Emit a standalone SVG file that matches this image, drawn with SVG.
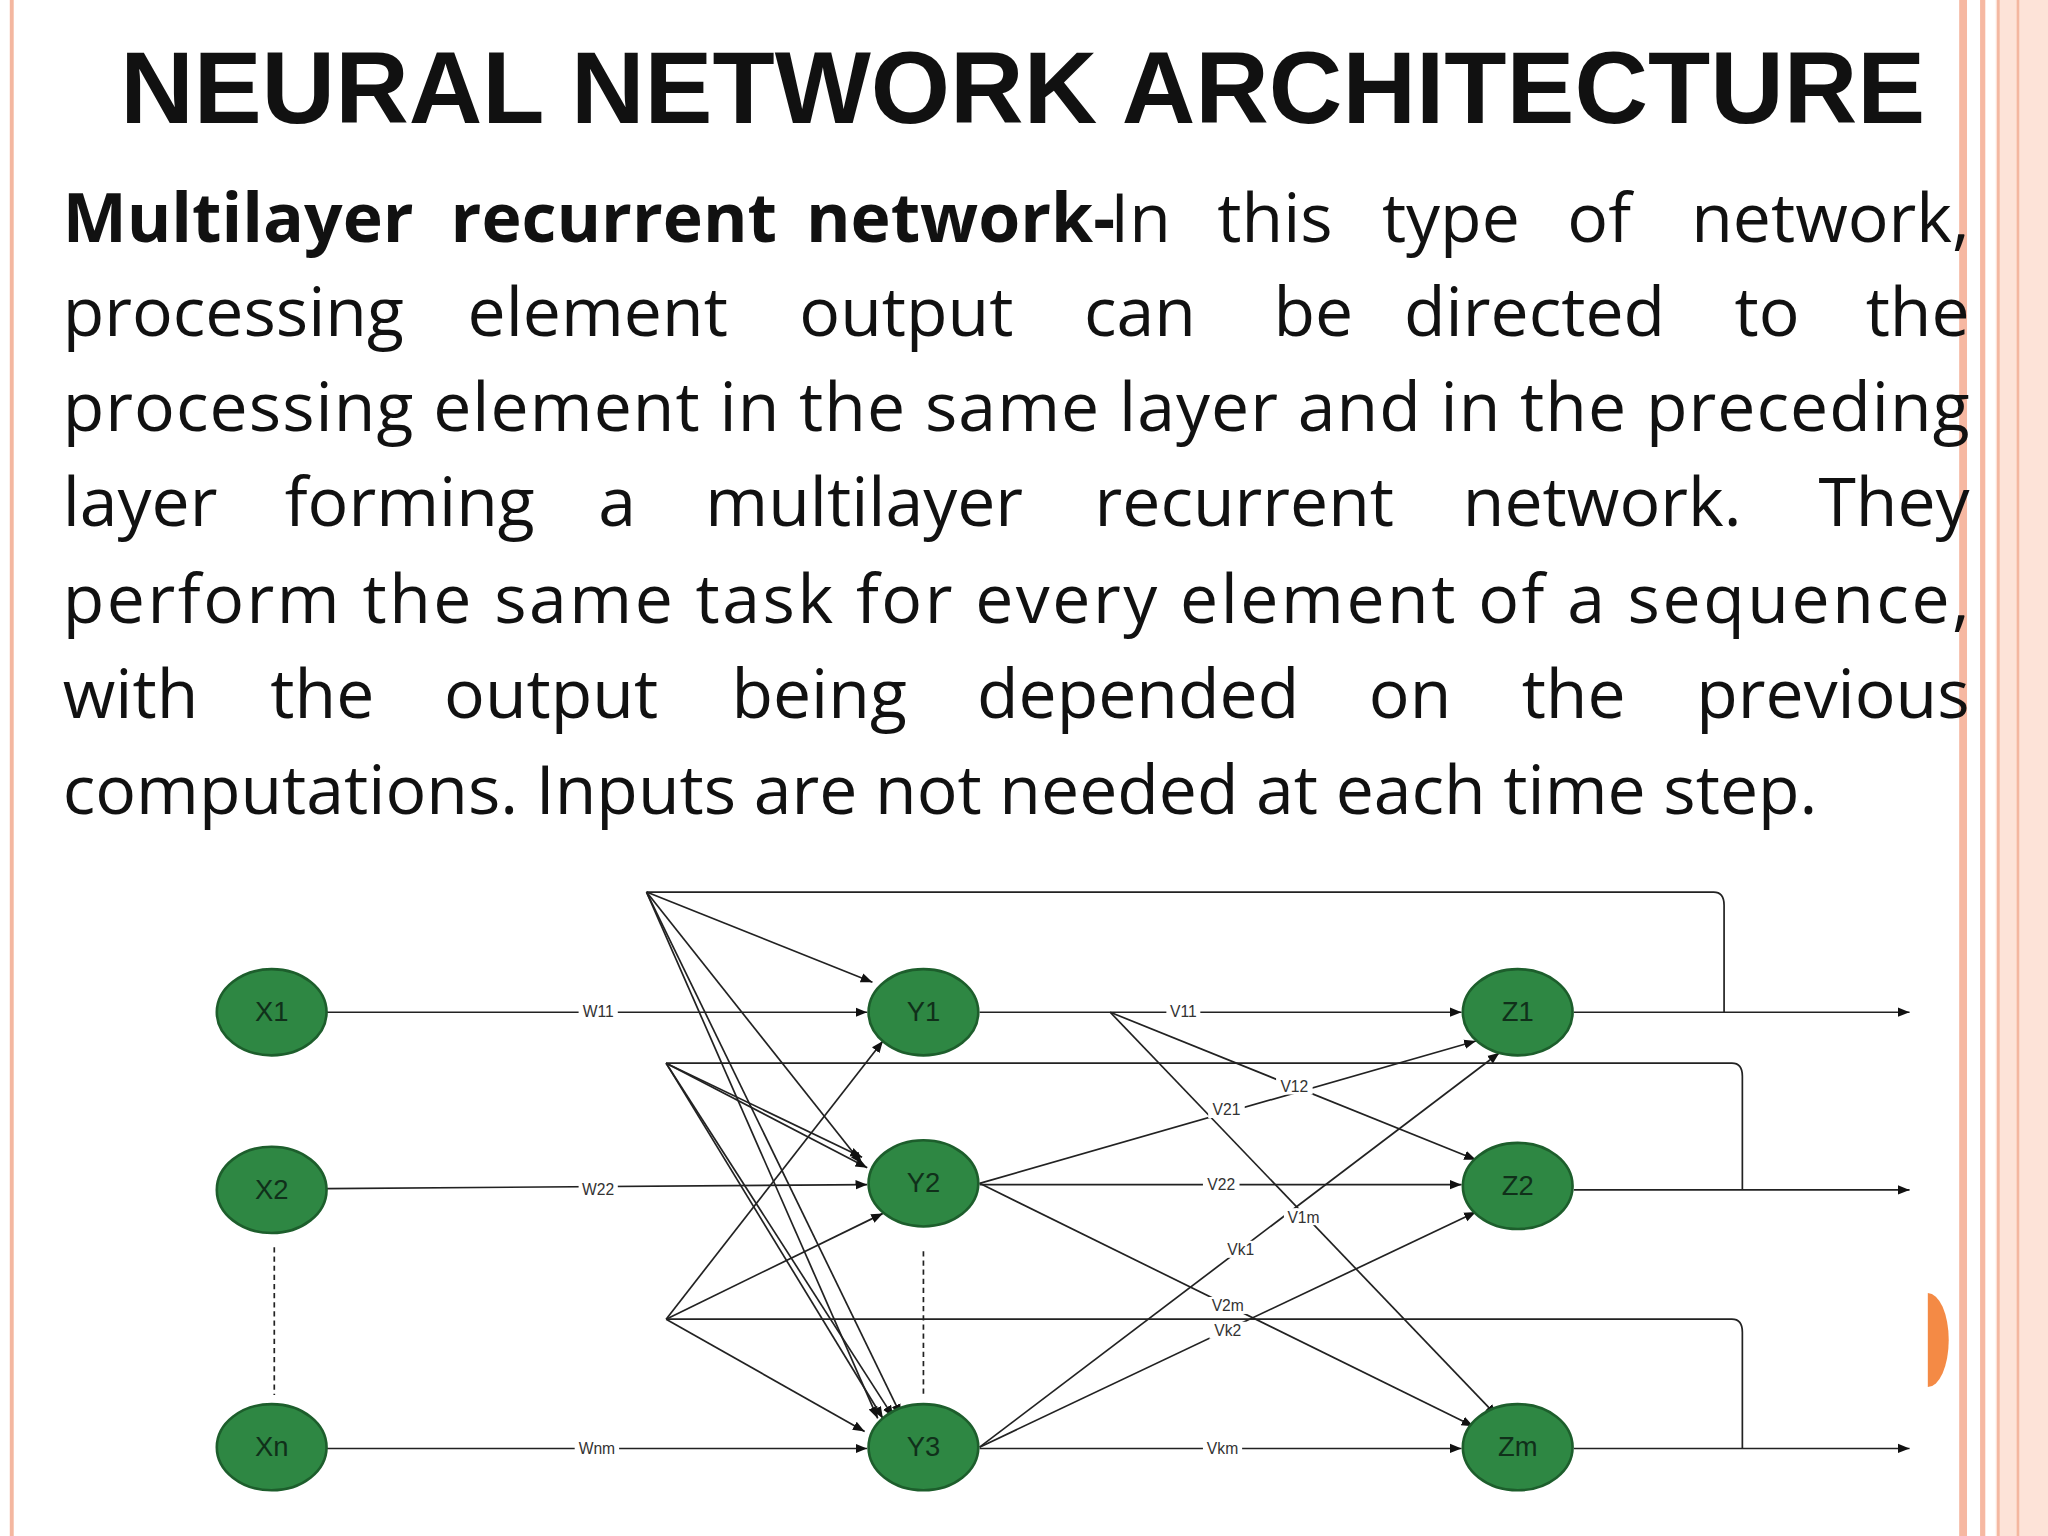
<svg xmlns="http://www.w3.org/2000/svg" width="2048" height="1536" viewBox="0 0 2048 1536">
<defs>
<marker id="ah" viewBox="0 0 10 10" refX="10" refY="5" markerWidth="9" markerHeight="9" markerUnits="userSpaceOnUse" orient="auto"><path d="M0,1 L10,5 L0,9 z" fill="#111"/></marker>
<style>
.t{font-family:"Open Sans","Liberation Sans",sans-serif;font-size:52px;fill:#111}
.b{font-weight:bold}
.r{text-anchor:end}
.e line,.e path{stroke:#222;stroke-width:1.3;fill:none}
.a{marker-end:url(#ah)}
.n ellipse{fill:#2e8743;stroke:#1d5e2c;stroke-width:2}
.n text{font-family:"Liberation Sans",Arial,sans-serif;font-size:21px;fill:#10301a;text-anchor:middle}
.l{font-family:"Liberation Sans",Arial,sans-serif;font-size:12px;fill:#333;text-anchor:middle}
.lb{fill:#fff}
</style>
</defs>
<rect width="2048" height="1536" fill="#fff"/>
<g transform="scale(1.30612)">
<g id="border">
<line x1="9" y1="0" x2="9" y2="1176" stroke="#f4b7a0" stroke-width="3"/>
<rect x="1500" y="0" width="6" height="1176" fill="#f6b8a2"/>
<rect x="1516" y="0" width="4" height="1176" fill="#f6b8a2"/>
<rect x="1528" y="0" width="40" height="1176" fill="#fde3d8"/>
<line x1="1530" y1="0" x2="1530" y2="1176" stroke="#f4b7a0" stroke-width="2"/>
<line x1="1545" y1="0" x2="1545" y2="1176" stroke="#f4b7a0" stroke-width="2"/>
<path d="M1476,990 A16,36 0 0 1 1476,1062 Z" fill="#f48a45"/>
</g>
<text x="783" y="94" text-anchor="middle" font-family="Liberation Sans,Arial,sans-serif" font-weight="bold" font-size="78" fill="#111">NEURAL NETWORK ARCHITECTURE</text>
<g id="para" class="t">
<text y="185"><tspan x="48" class="b">Multilayer</tspan><tspan x="345" class="b">recurrent</tspan><tspan x="617" class="b">network-</tspan><tspan x="850">In</tspan><tspan x="932">this</tspan><tspan x="1058">type</tspan><tspan x="1200">of</tspan></text>
<text x="1508" y="185" class="r">network,</text>
<text y="257"><tspan x="48">processing</tspan><tspan x="358">element</tspan><tspan x="612">output</tspan><tspan x="830">can</tspan><tspan x="975">be</tspan><tspan x="1075">directed</tspan><tspan x="1328">to</tspan></text>
<text x="1508" y="257" class="r">the</text>
<text x="48" y="330" textLength="1460" lengthAdjust="spacing">processing element in the same layer and in the preceding</text>
<text y="403"><tspan x="48">layer</tspan><tspan x="218">forming</tspan><tspan x="458">a</tspan><tspan x="540">multilayer</tspan><tspan x="838">recurrent</tspan><tspan x="1120">network.</tspan></text>
<text x="1508" y="403" class="r">They</text>
<text x="48" y="477" textLength="1460" lengthAdjust="spacing">perform the same task for every element of a sequence,</text>
<text y="550"><tspan x="48">with</tspan><tspan x="207">the</tspan><tspan x="340">output</tspan><tspan x="560">being</tspan><tspan x="748">depended</tspan><tspan x="1048">on</tspan><tspan x="1165">the</tspan></text>
<text x="1508" y="550" class="r">previous</text>
<text x="48" y="623">computations. Inputs are not needed at each time step.</text>
</g>
<g id="connectors" class="e">
<line class="a" x1="250" y1="775" x2="664" y2="775"/>
<line class="a" x1="250" y1="910" x2="664" y2="907"/>
<line class="a" x1="250" y1="1109" x2="664" y2="1109"/>
<line class="a" x1="750" y1="775" x2="1119" y2="775"/>
<line class="a" x1="750" y1="907" x2="1119" y2="907"/>
<line class="a" x1="750" y1="1109" x2="1119" y2="1109"/>
<line class="a" x1="1205" y1="775" x2="1462" y2="775"/>
<line class="a" x1="1205" y1="911" x2="1462" y2="911"/>
<line class="a" x1="1205" y1="1109" x2="1462" y2="1109"/>
<path d="M495,683 H1312 Q1320,683 1320,693 V775"/>
<path d="M510,814 H1326 Q1334,814 1334,824 V911"/>
<path d="M510,1010 H1326 Q1334,1010 1334,1020 V1109"/>
<line class="a" x1="495" y1="683" x2="668" y2="752"/>
<line class="a" x1="495" y1="683" x2="660" y2="891"/>
<line class="a" x1="495" y1="683" x2="672" y2="1086"/>
<line class="a" x1="495" y1="683" x2="690" y2="1084"/>
<line class="a" x1="510" y1="814" x2="660" y2="886"/>
<line class="a" x1="510" y1="814" x2="664" y2="894"/>
<line class="a" x1="510" y1="814" x2="676" y2="1086"/>
<line class="a" x1="510" y1="814" x2="684" y2="1085"/>
<line class="a" x1="510" y1="1010" x2="676" y2="797"/>
<line class="a" x1="510" y1="1010" x2="676" y2="929"/>
<line class="a" x1="510" y1="1010" x2="662" y2="1096"/>
<line class="a" x1="850" y1="775" x2="1130" y2="888"/>
<line class="a" x1="850" y1="775" x2="1146" y2="1084"/>
<line class="a" x1="750" y1="906" x2="1130" y2="797"/>
<line class="a" x1="750" y1="906" x2="1128" y2="1092"/>
<line class="a" x1="750" y1="1108" x2="1148" y2="806"/>
<line class="a" x1="750" y1="1108" x2="1130" y2="928"/>
<line x1="210" y1="955" x2="210" y2="1068" stroke-dasharray="4,3"/>
<line x1="707" y1="958" x2="707" y2="1068" stroke-dasharray="4,3"/>
</g>
<g id="labels">
<rect class="lb" x="443" y="768" width="30" height="13"/><text class="l" x="458" y="779">W11</text>
<rect class="lb" x="443" y="904" width="30" height="13"/><text class="l" x="458" y="915">W22</text>
<rect class="lb" x="440" y="1102" width="34" height="13"/><text class="l" x="457" y="1113">Wnm</text>
<rect class="lb" x="893" y="768" width="26" height="13"/><text class="l" x="906" y="779">V11</text>
<rect class="lb" x="921" y="900" width="28" height="13"/><text class="l" x="935" y="911">V22</text>
<rect class="lb" x="921" y="1102" width="30" height="13"/><text class="l" x="936" y="1113">Vkm</text>
<rect class="lb" x="977" y="825" width="28" height="13"/><text class="l" x="991" y="836">V12</text>
<rect class="lb" x="925" y="843" width="28" height="13"/><text class="l" x="939" y="854">V21</text>
<rect class="lb" x="983" y="925" width="30" height="13"/><text class="l" x="998" y="936">V1m</text>
<rect class="lb" x="936" y="950" width="28" height="13"/><text class="l" x="950" y="961">Vk1</text>
<rect class="lb" x="924" y="993" width="32" height="13"/><text class="l" x="940" y="1004">V2m</text>
<rect class="lb" x="926" y="1012" width="28" height="13"/><text class="l" x="940" y="1023">Vk2</text>
</g>
<g id="X1" class="n"><ellipse cx="208" cy="775" rx="42" ry="33"/><text x="208" y="782">X1</text></g>
<g id="X2" class="n"><ellipse cx="208" cy="911" rx="42" ry="33"/><text x="208" y="918">X2</text></g>
<g id="Xn" class="n"><ellipse cx="208" cy="1108" rx="42" ry="33"/><text x="208" y="1115">Xn</text></g>
<g id="Y1" class="n"><ellipse cx="707" cy="775" rx="42" ry="33"/><text x="707" y="782">Y1</text></g>
<g id="Y2" class="n"><ellipse cx="707" cy="906" rx="42" ry="33"/><text x="707" y="913">Y2</text></g>
<g id="Y3" class="n"><ellipse cx="707" cy="1108" rx="42" ry="33"/><text x="707" y="1115">Y3</text></g>
<g id="Z1" class="n"><ellipse cx="1162" cy="775" rx="42" ry="33"/><text x="1162" y="782">Z1</text></g>
<g id="Z2" class="n"><ellipse cx="1162" cy="908" rx="42" ry="33"/><text x="1162" y="915">Z2</text></g>
<g id="Zm" class="n"><ellipse cx="1162" cy="1108" rx="42" ry="33"/><text x="1162" y="1115">Zm</text></g>
</g>
</svg>
